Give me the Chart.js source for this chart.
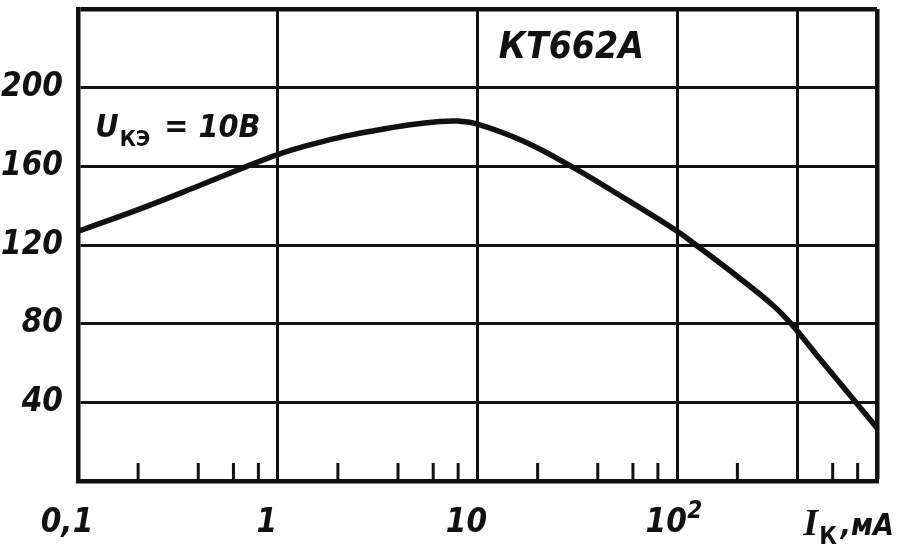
<!DOCTYPE html>
<html>
<head>
<meta charset="utf-8">
<script src="https://cdn.jsdelivr.net/npm/chart.js@4"></script>
<style>
  html, body { margin: 0; padding: 0; background: #fff; }
  #wrap { width: 914px; height: 546px; }
</style>
</head>
<body>
<div id="wrap"><canvas id="h21Chart"></canvas></div>
<script>
// collector current, mA (log axis) and static current gain h21E
const currentMA = [0.1, 0.2, 0.4, 0.7, 1, 1.4, 2, 3, 4.5, 6.5, 8, 10, 16.8, 29.5, 53, 100, 124, 200, 300, 371, 500, 769, 1000];
const gain = [127, 138, 150, 160, 166, 170.5, 174.5, 178, 181, 182.8, 183, 181.5, 173, 160, 144.5, 127, 120, 104, 89.5, 80, 64, 41, 27];

const xTickValues = [0.1, 0.2, 0.4, 0.6, 0.8, 1, 2, 4, 6, 8, 10, 20, 40, 60, 80, 100, 200, 400, 600, 800, 1000];
const xGridValues = [0.1, 1, 10, 100, 400, 1000];
const xLabelValues = [0.1, 1, 10, 100];
const xLabelTexts = ['0,1', '1', '10', '10'];
const yLabelValues = [40, 80, 120, 160, 200];

const deviceName = 'КТ662А';
const biasLabel = ['U', 'КЭ', ' = 10В'];
const xAxisName = ['I', 'К', ',мА'];

const INK = '#111';
const FAMILY = "'Liberation Sans Narrow', 'DejaVu Sans Condensed', sans-serif";
const fontStr = (size, style, family) => (style || 'italic bold') + ' ' + size + 'px ' + (family || FAMILY);

// draws "main + subscript + rest" on a baseline, subscript upright and lowered
function drawSubscripted(ctx, parts, x, base, sizes, align, firstFamily) {
    const fonts = parts.map((p, i) => i === 1 ? fontStr(sizes[i], 'bold') : fontStr(sizes[i], null, i === 0 ? firstFamily : null));
    const widths = parts.map((p, i) => { ctx.font = fonts[i]; return ctx.measureText(p).width + (i === 1 ? 5 : 0); });
    const total = widths.reduce((a, b) => a + b, 0);
    let cx = align === 'right' ? x - total : (align === 'center' ? x - total / 2 : x);
    ctx.textAlign = 'left';
    ctx.textBaseline = 'alphabetic';
    parts.forEach((p, i) => {
        ctx.font = fonts[i];
        ctx.fillText(p, cx + (i === 1 ? 1 : 0), base + (i === 1 ? 9 : 0));
        cx += widths[i];
    });
}

const annotations = {
    id: 'annotations',
    afterDraw(chart) {
        const { ctx, scales: { x, y } } = chart;
        ctx.save();
        ctx.fillStyle = INK;
        ctx.strokeStyle = INK;

        // minor ticks pointing into the plot
        ctx.lineWidth = 3;
        xTickValues.forEach(v => {
            if (xGridValues.includes(v)) return;
            const px = x.getPixelForValue(v);
            ctx.beginPath();
            ctx.moveTo(px, y.bottom);
            ctx.lineTo(px, y.bottom - 18);
            ctx.stroke();
        });

        // exponent of the 10^2 label
        ctx.font = fontStr(24);
        ctx.textAlign = 'left';
        ctx.textBaseline = 'alphabetic';
        ctx.fillText('2', x.getPixelForValue(100) + 10, y.bottom + 37);

        // device type in the top cell
        ctx.font = fontStr(37);
        ctx.textAlign = 'center';
        ctx.textBaseline = 'middle';
        const cx1 = (x.getPixelForValue(10) + x.getPixelForValue(100)) / 2;
        const cy1 = (y.getPixelForValue(200) + y.getPixelForValue(240)) / 2;
        ctx.fillText(deviceName, cx1 - 6, cy1);

        // bias condition
        const cx2 = (x.getPixelForValue(0.1) + x.getPixelForValue(1)) / 2;
        const cy2 = (y.getPixelForValue(160) + y.getPixelForValue(200)) / 2;
        drawSubscripted(ctx, biasLabel, cx2, cy2 + 10, [32, 22, 32], 'center');

        // axis name at the right end
        drawSubscripted(ctx, xAxisName, x.right + 17, y.bottom + 54, [38, 24, 30], 'right', "'Liberation Serif', serif");
        ctx.restore();
    }
};

const ctx = document.getElementById('h21Chart').getContext('2d');
new Chart(ctx, {
    type: 'line',
    data: {
        datasets: [{
            data: currentMA.map((v, i) => ({ x: v, y: gain[i] })),
            borderColor: INK,
            borderWidth: 5.5,
            pointRadius: 0,
            tension: 0.4,
            fill: false
        }]
    },
    options: {
        responsive: true,
        maintainAspectRatio: false,
        animation: false,
        layout: { padding: { top: 9, right: 37, left: 0, bottom: 0 } },
        plugins: {
            legend: { display: false },
            tooltip: { enabled: false }
        },
        scales: {
            x: {
                type: 'logarithmic',
                min: 0.1,
                max: 1000,
                afterBuildTicks: (scale) => { scale.ticks = xTickValues.map(v => ({ value: v })); },
                afterFit: (scale) => {
                    scale.height = 65;
                    scale.paddingLeft = 0;
                    scale.paddingRight = 0;
                },
                grid: {
                    drawTicks: false,
                    color: (c) => xGridValues.includes(c.tick && c.tick.value) ? INK : 'rgba(0,0,0,0)',
                    lineWidth: (c) => (c.tick && c.tick.value === 1000) ? 4.5 : 3
                },
                border: { display: true, color: INK, width: 4.5 },
                ticks: {
                    autoSkip: false,
                    maxRotation: 0,
                    padding: 23,
                    labelOffset: -11,
                    color: INK,
                    font: { family: FAMILY, size: 33, style: 'italic', weight: 'bold' },
                    callback: (v) => {
                        const i = xLabelValues.indexOf(v);
                        return i >= 0 ? xLabelTexts[i] : '';
                    }
                }
            },
            y: {
                min: 0,
                max: 240,
                afterFit: (scale) => {
                    scale.width = 78;
                    scale.paddingTop = 0;
                    scale.paddingBottom = 0;
                },
                grid: {
                    drawTicks: false,
                    color: INK,
                    lineWidth: (c) => (c.tick && c.tick.value === 240) ? 4.5 : 3
                },
                border: { display: true, color: INK, width: 4.5 },
                ticks: {
                    stepSize: 40,
                    padding: 15,
                    color: INK,
                    font: { family: FAMILY, size: 33, style: 'italic', weight: 'bold' },
                    callback: (v) => yLabelValues.includes(v) ? String(v) : ''
                }
            }
        }
    },
    plugins: [annotations]
});
</script>
</body>
</html>
